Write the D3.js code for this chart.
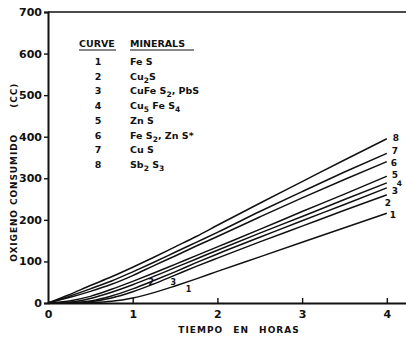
<!DOCTYPE html>
<html>
<head>
<meta charset="utf-8">
<script src="https://cdn.jsdelivr.net/npm/d3@7"></script>
<style>
  body { margin: 0; background: #fff; }
  svg text { font-family: "DejaVu Sans", sans-serif; font-weight: bold; fill: #111; }
</style>
</head>
<body>
<svg id="chart" width="406" height="339"></svg>
<script>
// oxygen consumed (cc) vs time (hours)
const hours = [0, 0.25, 0.5, 0.75, 1, 1.25, 1.5, 1.75, 2, 2.5, 3, 3.5, 4];
const curve1 = [0, 0, 1, 4, 12, 25, 41, 58, 76, 111, 146, 181, 216];
const curve2 = [0, 0, 3, 12, 27, 46, 67, 88, 108, 147, 185, 223, 260];
const curve3 = [0, 1, 5, 17, 34, 54, 75, 97, 118, 158, 198, 237, 277];
const curve4 = [0, 2, 11, 26, 44, 64, 85, 106, 127, 168, 208, 249, 289];
const curve5 = [0, 5, 16, 33, 52, 72, 93, 114, 135, 177, 220, 262, 305];
const curve6 = [0, 13, 28, 45, 66, 90, 113, 137, 160, 207, 253, 297, 340];
const curve7 = [0, 16, 34, 53, 75, 98, 122, 146, 170, 220, 268, 315, 360];
const curve8 = [0, 20, 42, 63, 86, 110, 135, 160, 187, 240, 292, 344, 395];

const curveIds = ["1", "2", "3", "4", "5", "6", "7", "8"];
const minerals = ["Fe S", "Cu_2S", "CuFe S_2, PbS", "Cu_5 Fe S_4", "Zn S", "Fe S_2, Zn S*", "Cu S", "Sb_2 S_3"];
const xTicks = [0, 1, 2, 3, 4];
const yTicks = [0, 100, 200, 300, 400, 500, 600, 700];

const series = [curve1, curve2, curve3, curve4, curve5, curve6, curve7, curve8];

const svg = d3.select("#chart");
const x = d3.scaleLinear().domain([0, 4.25]).range([48, 408]);
const y = d3.scaleLinear().domain([0, 700]).range([303, 12]);

// frame: top border
svg.append("line")
  .attr("x1", x(0)).attr("x2", 406)
  .attr("y1", y(700)).attr("y2", y(700))
  .attr("stroke", "#111").attr("stroke-width", 1.6);

// y axis
const yAxis = svg.append("g")
  .attr("transform", `translate(${x(0)},0)`)
  .call(d3.axisLeft(y).tickValues(yTicks).tickSize(4).tickPadding(2));
yAxis.select(".domain").attr("stroke", "#111").attr("stroke-width", 2);
yAxis.selectAll(".tick line").attr("stroke", "#111").attr("stroke-width", 1.4);
yAxis.selectAll(".tick text").attr("font-size", 11).attr("font-family", "DejaVu Sans").attr("font-weight", "bold").attr("fill", "#111");

// x axis, ticks point up into the plot
const xAxis = svg.append("g")
  .attr("transform", `translate(0,${y(0)})`)
  .call(d3.axisBottom(x).tickValues(xTicks).tickFormat(d3.format("d")).tickSize(0).tickPadding(7));
xAxis.select(".domain").attr("stroke", "#111").attr("stroke-width", 2);
xAxis.selectAll(".tick text").attr("font-size", 11).attr("font-family", "DejaVu Sans").attr("font-weight", "bold").attr("fill", "#111");
xAxis.selectAll(".tick").filter(d => d > 0).append("line")
  .attr("y1", 0).attr("y2", -5).attr("stroke", "#111").attr("stroke-width", 1.4);

// axis titles
svg.append("text")
  .attr("transform", `translate(17,${y(253)}) rotate(-90)`)
  .attr("text-anchor", "middle").attr("font-size", 9).attr("letter-spacing", 0.9)
  .text("OXIGENO CONSUMIDO");
svg.append("text")
  .attr("transform", `translate(17,${y(500)}) rotate(-90)`)
  .attr("text-anchor", "middle").attr("font-size", 9).attr("letter-spacing", 0.9)
  .text("(CC)");
svg.append("text")
  .attr("x", 239).attr("y", 333)
  .attr("text-anchor", "middle").attr("font-size", 9).attr("letter-spacing", 1)
  .attr("word-spacing", 6)
  .text("TIEMPO EN HORAS");

// curves
const line = d3.line()
  .x((d, i) => x(hours[i]))
  .y(d => y(d))
  .curve(d3.curveMonotoneX);

svg.append("g").selectAll("path")
  .data(series)
  .join("path")
  .attr("d", d => line(d))
  .attr("fill", "none")
  .attr("stroke", "#111")
  .attr("stroke-width", 1.5);

// end labels
const nudge = [[3, 2], [-2, 8], [5, 3], [10, 0], [5, -1], [4, 1], [5, -2], [6, -1]];
svg.append("g").selectAll("text")
  .data(series)
  .join("text")
  .attr("x", (d, i) => x(4) + nudge[i][0])
  .attr("y", (d, i) => y(d[d.length - 1]) + 3 + nudge[i][1])
  .attr("font-size", (d, i) => i === 3 ? 7.5 : 9)
  .text((d, i) => curveIds[i]);

// small labels along the lower curves
const innerLabels = [["2", 1.22, 44], ["3", 1.48, 44], ["1", 1.66, 26]];
svg.append("g").selectAll("text")
  .data(innerLabels)
  .join("text")
  .attr("x", d => x(d[1]))
  .attr("y", d => y(d[2]))
  .attr("font-size", 8)
  .attr("text-anchor", "middle")
  .text(d => d[0]);

// legend table
const legend = svg.append("g");
const rowY = i => 65 + i * 14.7;
legend.append("text").attr("x", 79).attr("y", 47).attr("font-size", 9.5).text("CURVE");
legend.append("text").attr("x", 130).attr("y", 47).attr("font-size", 9.5).text("MINERALS");
legend.append("line").attr("x1", 79).attr("x2", 116).attr("y1", 50).attr("y2", 50).attr("stroke", "#111").attr("stroke-width", 1.2);
legend.append("line").attr("x1", 130).attr("x2", 194).attr("y1", 50).attr("y2", 50).attr("stroke", "#111").attr("stroke-width", 1.2);

legend.selectAll("text.num")
  .data(curveIds)
  .join("text")
  .attr("class", "num")
  .attr("x", 98).attr("y", (d, i) => rowY(i))
  .attr("text-anchor", "middle").attr("font-size", 9.5)
  .text(d => d);

legend.selectAll("text.min")
  .data(minerals)
  .join("text")
  .attr("class", "min")
  .attr("x", 130).attr("y", (d, i) => rowY(i))
  .attr("font-size", 9.5)
  .each(function(d) {
    const t = d3.select(this);
    // split "_n" into subscript pieces
    const parts = d.split(/(_\d)/).filter(p => p.length);
    let low = false;
    parts.forEach(p => {
      if (p[0] === "_") {
        t.append("tspan").attr("dy", 3).attr("font-size", 7.5).text(p.slice(1));
        low = true;
      } else {
        t.append("tspan").attr("dy", low ? -3 : 0).text(p);
        low = false;
      }
    });
  });
</script>
</body>
</html>
